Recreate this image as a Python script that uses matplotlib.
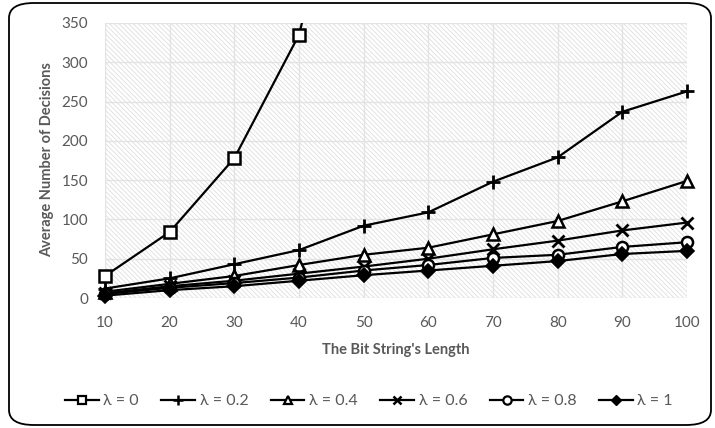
import matplotlib
matplotlib.use("Agg")
import matplotlib.pyplot as plt
from matplotlib.patches import FancyBboxPatch, Rectangle
from matplotlib.lines import Line2D

plt.rcParams['font.family'] = ['Lato', 'DejaVu Sans']
plt.rcParams['hatch.color'] = '#dedede'
plt.rcParams['hatch.linewidth'] = 0.6

lengths = [10, 20, 30, 40, 50, 60, 70, 80, 90, 100]
lam_0 = [28, 84, 178, 335, 665]
lam_02 = [12, 25, 43, 61, 92, 109, 148, 179, 237, 263]
lam_04 = [8, 18, 28, 42, 55, 64, 81, 98, 123, 149]
lam_06 = [6, 15, 22, 31, 40, 50, 62, 73, 86, 96]
lam_08 = [5, 13, 19, 26, 35, 42, 51, 55, 65, 71]
lam_1 = [3, 10, 15, 22, 29, 35, 41, 47, 56, 60]
labels = ['λ = 0', 'λ = 0.2', 'λ = 0.4', 'λ = 0.6', 'λ = 0.8', 'λ = 1']
yticks = [0, 50, 100, 150, 200, 250, 300, 350]

W, H = 715, 428
fig = plt.figure(figsize=(W / 100, H / 100), dpi=100)
ax = fig.add_axes([105 / W, 1 - 298 / H, (687 - 105) / W, (298 - 23) / H])

# border
border = FancyBboxPatch((9 / W, 3 / H), (711 - 9) / W, (425 - 3) / H,
                        boxstyle="round,pad=0,rounding_size=0.035",
                        transform=fig.transFigure, fill=False,
                        edgecolor='black', linewidth=1.3, zorder=0)
fig.patches.append(border)

ax.set_facecolor('white')
bg = Rectangle((0, 0), 1, 1, transform=ax.transAxes, facecolor='white',
               hatch='\\' * 7, edgecolor='#dedede', linewidth=0, zorder=0)
ax.add_patch(bg)

# clip region: open on left/right/bottom, closed at the top of the plot area
clip_rect = Rectangle((-0.1, -0.2), 1.2, 1.2, transform=ax.transAxes,
                      facecolor='none', edgecolor='none')
ax.add_patch(clip_rect)
clip_rect.set_visible(False)

series = [lam_0, lam_02, lam_04, lam_06, lam_08, lam_1]
styles = [
    dict(marker='s', mfc='white', ms=8, mew=1.8),
    dict(marker='+', mfc='black', ms=10, mew=2.0),
    dict(marker='^', mfc='white', ms=8, mew=1.8),
    dict(marker='x', mfc='black', ms=8, mew=2.0),
    dict(marker='o', mfc='white', ms=8, mew=1.8),
    dict(marker='D', mfc='black', ms=7, mew=1.2),
]
for vals, lab, st in zip(series, labels, styles):
    ln, = ax.plot(lengths[:len(vals)], vals, color='black', lw=1.6, mec='black',
                  label=lab, zorder=3, **st)
    ln.set_clip_path(clip_rect)

ax.set_xlim(10, 100)
ax.set_ylim(0, 350)
ax.set_xticks(lengths)
ax.set_yticks(yticks)
ax.grid(True, color='#e3e3e3', linewidth=1.0, zorder=1)
ax.set_axisbelow(True)
for s in ax.spines.values():
    s.set_visible(False)
ax.tick_params(length=0, labelsize=11, colors='#595959')
ax.tick_params(axis='y', pad=12)
ax.tick_params(axis='x', pad=13)

fig.text(47 / W, 1 - 160 / H, 'Average Number of Decisions', rotation=90,
         ha='center', va='center', fontsize=10.5, fontweight='bold', color='#595959')
fig.text(396 / W, 1 - 350 / H, "The Bit String's Length",
         ha='center', va='center', fontsize=10.5, fontweight='bold', color='#595959')

leg_styles = [
    dict(marker='s', mfc='white', ms=6, mew=1.6),
    dict(marker='+', mfc='black', ms=7, mew=1.8),
    dict(marker='^', mfc='white', ms=6, mew=1.6),
    dict(marker='x', mfc='black', ms=6, mew=1.8),
    dict(marker='o', mfc='white', ms=6, mew=1.6),
    dict(marker='D', mfc='black', ms=5.5, mew=1.0),
]
leg_handles = [Line2D([], [], color='black', lw=1.6, mec='black', **st) for st in leg_styles]
leg = fig.legend(leg_handles, labels, loc='center', bbox_to_anchor=(369 / W, 1 - 401 / H),
                 ncol=6, frameon=False, fontsize=11.5, handlelength=2.1,
                 columnspacing=1.4, handletextpad=0.3)
for t in leg.get_texts():
    t.set_color('#595959')

fig.savefig('out.png', dpi=100)
